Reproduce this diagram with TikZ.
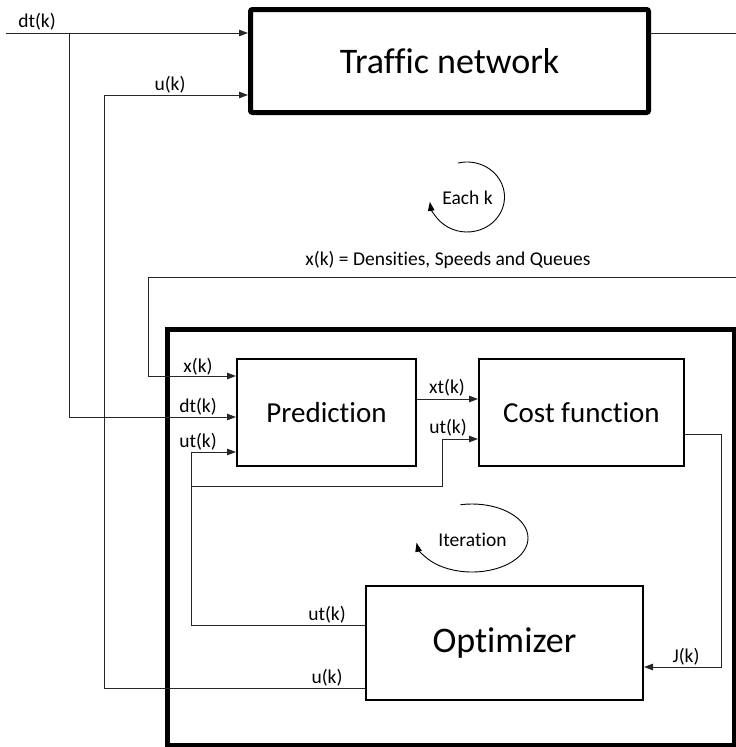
\documentclass[tikz,border=0pt]{standalone}
\usepackage{fontspec}
\setmainfont{Carlito}[Ligatures={NoCommon}]
\usetikzlibrary{arrows.meta}
\begin{document}
\begin{tikzpicture}[x=1pt,y=-1pt,
  wire/.style={line width=1pt,draw=black!85},
  arr/.style={wire,-{Triangle[length=9pt,width=6.5pt]}},
  looparr/.style={line width=0.9pt,draw=black,-{Triangle[length=9pt,width=6.5pt]}},
  blk/.style={draw,line width=1.6pt,fill=white,inner sep=0pt},
  bigblk/.style={draw,line width=5pt,inner sep=0pt},
  lbl/.style={font=\fontsize{19.5}{22}\selectfont,anchor=base,inner sep=0pt},
  midtxt/.style={font=\fontsize{29}{32}\selectfont},
  bigtxt/.style={font=\fontsize{36}{40}\selectfont}
]
\useasboundingbox (0,0) rectangle (736,747);

% controller frame
\node[bigblk,minimum width=566.5pt,minimum height=415.5pt] (ctrl) at (450.75,537.25) {};

% blocks
\node[bigblk,rounded corners=2pt,minimum width=398pt,minimum height=103pt,bigtxt] (traffic) at (449.5,61) {Traffic network};
\node[blk,minimum width=179.4pt,minimum height=107.4pt,midtxt] (pred) at (326.5,412.5) {Prediction};
\node[blk,minimum width=205.4pt,minimum height=107.4pt,midtxt] (cost) at (581.5,412.5) {Cost function};
\node[blk,minimum width=277.4pt,minimum height=114.4pt,bigtxt] (opt) at (504.5,643) {Optimizer};

% helper points
\coordinate (dtin) at (6,33);
\coordinate (dtsplit) at (69,33);
\coordinate (tout) at (736,33);
\coordinate (ucorner) at (104,95);
\coordinate (yu) at (0,688);
\coordinate (xfb) at (736,277);
\coordinate (xcorner) at (148,277);
\coordinate (yxp) at (0,376);
\coordinate (ydtp) at (0,417);
\coordinate (utcorner) at (191,452);
\coordinate (yut) at (0,625);
\coordinate (utsplit) at (191,486);
\coordinate (utbend) at (442,439);
\coordinate (yxt) at (0,399);
\coordinate (jcorner) at (721,434);
\coordinate (yj) at (0,667);

% connectors
\draw[arr] (dtin) -- (traffic.west |- dtin);
\draw[arr] (dtsplit) |- (pred.west |- ydtp);
\draw[wire] (traffic.east |- dtin) -- (tout);
\draw[arr] (opt.west |- yu) -| (ucorner) -- (traffic.west |- ucorner);
\draw[arr] (xfb) -- (xcorner) |- (pred.west |- yxp);
\draw[arr] (opt.west |- yut) -| (utcorner) -- (pred.west |- utcorner);
\draw[arr] (utsplit) -| (utbend) -- (cost.west |- utbend);
\draw[arr] (pred.east |- yxt) -- (cost.west |- yxt);
\draw[arr] (cost.east |- jcorner) -- (jcorner) |- (opt.east |- yj);

% signal labels
\node[lbl] (ldt) at (37,27) {dt(k)};
\node[lbl] (lu) at (170,90) {u(k)};
\node[lbl] (lx) at (448,265) {x(k) = Densities, Speeds and Queues};
\node[lbl] (lxp) at (198,372) {x(k)};
\node[lbl] (ldtp) at (198,412) {dt(k)};
\node[lbl] (lutp) at (198,447) {ut(k)};
\node[lbl] (lxt) at (447,393) {xt(k)};
\node[lbl] (lutc) at (448,433) {ut(k)};
\node[lbl] (luto) at (327,620) {ut(k)};
\node[lbl] (luo) at (327,683) {u(k)};
\node[lbl] (lj) at (686,662) {J(k)};

% loop markers
\node[font=\fontsize{19.5}{22}\selectfont,inner sep=0pt] (eachk) at (467.5,198) {Each k};
\coordinate (ekc) at (467,197);
\draw[looparr] ([shift={(104:37.5pt and 35pt)}]ekc) arc[start angle=104,end angle=-172,x radius=37.5pt,y radius=35pt];

\node[font=\fontsize{19.5}{22}\selectfont,inner sep=0pt] (iter) at (472.5,540) {Iteration};
\coordinate (itc) at (472,538);
\draw[looparr] ([shift={(102:56pt and 34pt)}]itc) arc[start angle=102,end angle=-172,x radius=56pt,y radius=34pt];
\end{tikzpicture}
\end{document}
